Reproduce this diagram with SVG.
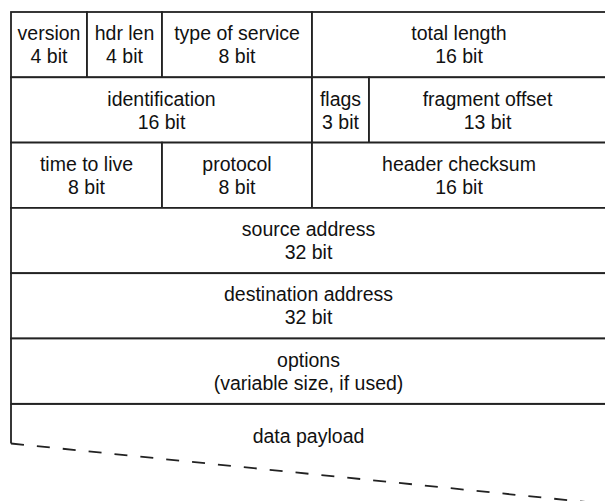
<svg xmlns="http://www.w3.org/2000/svg" width="605" height="501" viewBox="0 0 605 501">
<style>
.b{fill:#fff;stroke:#222;stroke-width:1.8}
.t{font-family:"Liberation Sans",Arial,sans-serif;font-size:19.5px;fill:#111;text-anchor:middle}
.d{fill:none;stroke:#222;stroke-width:1.8;stroke-dasharray:13 13}
</style>
<rect width="605" height="501" fill="#fff"/>
<g id="version"><rect class="b" x="11" y="12" width="76" height="65.3"/><text class="t" x="49" y="40">version</text><text class="t" x="49" y="63">4 bit</text></g>
<g id="hdr-len"><rect class="b" x="87" y="12" width="75" height="65.3"/><text class="t" x="124.5" y="40">hdr len</text><text class="t" x="124.5" y="63">4 bit</text></g>
<g id="type-of-service"><rect class="b" x="162" y="12" width="150" height="65.3"/><text class="t" x="237" y="40">type of service</text><text class="t" x="237" y="63">8 bit</text></g>
<g id="total-length"><rect class="b" x="312" y="12" width="295" height="65.3"/><text class="t" x="459" y="40">total length</text><text class="t" x="459" y="63">16 bit</text></g>
<g id="identification"><rect class="b" x="11" y="77.3" width="301" height="65.3"/><text class="t" x="161.5" y="105.5">identification</text><text class="t" x="161.5" y="128.5">16 bit</text></g>
<g id="flags"><rect class="b" x="312" y="77.3" width="57" height="65.3"/><text class="t" x="340.5" y="105.5">flags</text><text class="t" x="340.5" y="128.5">3 bit</text></g>
<g id="fragment-offset"><rect class="b" x="369" y="77.3" width="238" height="65.3"/><text class="t" x="487.5" y="105.5">fragment offset</text><text class="t" x="487.5" y="128.5">13 bit</text></g>
<g id="time-to-live"><rect class="b" x="11" y="142.6" width="151" height="65.3"/><text class="t" x="86.5" y="170.8">time to live</text><text class="t" x="86.5" y="193.8">8 bit</text></g>
<g id="protocol"><rect class="b" x="162" y="142.6" width="150" height="65.3"/><text class="t" x="237" y="170.8">protocol</text><text class="t" x="237" y="193.8">8 bit</text></g>
<g id="header-checksum"><rect class="b" x="312" y="142.6" width="295" height="65.3"/><text class="t" x="459" y="170.8">header checksum</text><text class="t" x="459" y="193.8">16 bit</text></g>
<g id="source-address"><rect class="b" x="11" y="207.9" width="596" height="65.3"/><text class="t" x="308.5" y="236.1">source address</text><text class="t" x="308.5" y="259.1">32 bit</text></g>
<g id="destination-address"><rect class="b" x="11" y="273.2" width="596" height="65.3"/><text class="t" x="308.5" y="301.4">destination address</text><text class="t" x="308.5" y="324.4">32 bit</text></g>
<g id="options"><rect class="b" x="11" y="338.5" width="596" height="65.3"/><text class="t" x="308.5" y="366.7">options</text><text class="t" x="308.5" y="389.7">(variable size, if used)</text></g>
<g id="data-payload">
<path fill="none" stroke="#222" stroke-width="1.8" d="M11 403.8V443.5M11 403.8H607"/>
<text class="t" x="308.5" y="443">data payload</text>
</g>
<g id="connectors">
<path class="d" d="M11 443.5L606 504"/>
</g>
</svg>
